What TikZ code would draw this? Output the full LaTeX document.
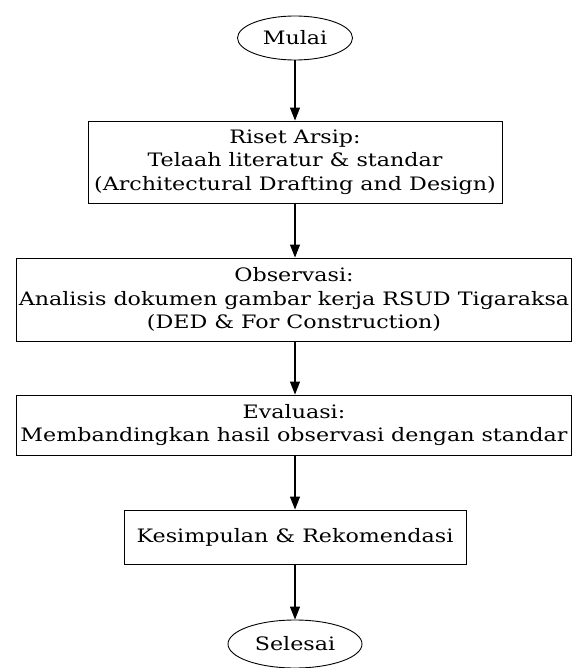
\documentclass[tikz,border=0pt]{standalone}
\usepackage{fontspec}
\setmainfont{DejaVu Serif}[FakeStretch=1.2]
\usetikzlibrary{shapes.geometric,arrows.meta}
\begin{document}
\begin{tikzpicture}[x=1pt,y=-1pt,
  every node/.style={font=\fontsize{18.5}{23.5}\selectfont, align=center, inner sep=0pt},
  term/.style={draw, ellipse, line width=0.9pt},
  proc/.style={draw, rectangle, line width=0.9pt},
  flow/.style={draw, line width=1.2pt, -{Triangle[length=13pt,width=10pt]}}]
\useasboundingbox (0,0) rectangle (573,668);
\node[term, minimum width=115pt, minimum height=44pt] (start) at (295,38) {Mulai};
\node[proc, minimum width=414pt, minimum height=82pt] (b1) at (295,162) {Riset Arsip:\\Telaah literatur \& standar\\(Architectural Drafting and Design)};
\node[proc, minimum width=555pt, minimum height=83pt] (b2) at (294,299.5) {Observasi:\\Analisis dokumen gambar kerja RSUD Tigaraksa\\(DED \& For Construction)};
\node[proc, minimum width=555pt, minimum height=60pt] (b3) at (294,425) {Evaluasi:\\Membandingkan hasil observasi dengan standar};
\node[proc, minimum width=342pt, minimum height=54pt] (b4) at (295,537) {Kesimpulan \& Rekomendasi};
\node[term, minimum width=134pt, minimum height=48pt] (end) at (295,644) {Selesai};
\draw[flow] (start) -- (b1);
\draw[flow] (b1.south) -- (b1.south |- b2.north);
\draw[flow] (b1.south |- b2.south) -- (b1.south |- b3.north);
\draw[flow] (b1.south |- b3.south) -- (b4.north);
\draw[flow] (b4) -- (end);
\end{tikzpicture}
\end{document}
